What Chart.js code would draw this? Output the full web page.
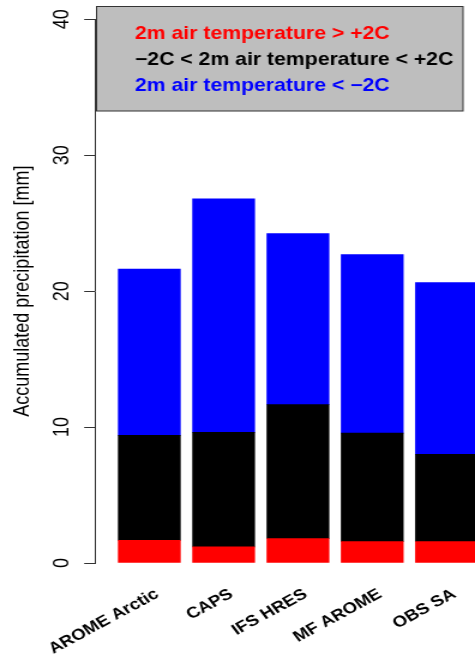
<!DOCTYPE html>
<html>
<head>
<meta charset="utf-8">
<script src="https://cdn.jsdelivr.net/npm/chart.js@4/dist/chart.umd.min.js"></script>
<style>
  html, body { margin: 0; padding: 0; background: #ffffff; overflow: hidden; width: 475px; height: 659px; }
  #wrap { width: 396px; height: 659px; transform: scaleX(1.19949); transform-origin: 0 0; }
  canvas { display: block; }
</style>
</head>
<body>
<div id="wrap"><canvas id="c" width="396" height="659"></canvas></div>
<script>
// ---- data ----
const categories = ["AROME Arctic", "CAPS", "IFS HRES", "MF AROME", "OBS SA"];
const seriesLabels = [
  "2m air temperature > +2C",
  "\u22122C < 2m air temperature < +2C",
  "2m air temperature < \u22122C"
];
const warmValues = [1.67, 1.19, 1.79, 1.57, 1.57];     // > +2C (red)
const mixedValues = [7.72, 8.42, 9.86, 7.99, 6.42];    // -2C..+2C (black)
const coldValues = [12.23, 17.19, 12.59, 13.13, 12.64]; // < -2C (blue)
const yTicks = [0, 10, 20, 30, 40];
const yTitle = "Accumulated precipitation [mm]";

const colors = ["#ff0000", "#000000", "#0000ff"];
const toPoints = arr => arr.map((v, i) => ({ x: i, y: v }));

const legendBox = {
  id: 'legendBox',
  afterDraw(chart) {
    const ctx = chart.ctx;
    ctx.save();
    ctx.fillStyle = '#bebebe';
    ctx.fillRect(80, 6, 306, 105);
    ctx.strokeStyle = '#333333';
    ctx.lineWidth = 1;
    ctx.strokeRect(80.5, 6.5, 305.5, 104.5);
    ctx.font = 'bold 17.7px "Liberation Sans", Arial, sans-serif';
    ctx.textBaseline = 'middle';
    ctx.textAlign = 'left';
    const ys = [34, 60.5, 86.5];
    chart.data.datasets.forEach((ds, i) => {
      ctx.fillStyle = ds.backgroundColor;
      ctx.fillText(ds.label, 112.5, ys[i]);
    });
    ctx.restore();
  }
};

new Chart(document.getElementById('c'), {
  type: 'bar',
  data: {
    datasets: [
      { label: seriesLabels[0], data: toPoints(warmValues), backgroundColor: colors[0] },
      { label: seriesLabels[1], data: toPoints(mixedValues), backgroundColor: colors[1] },
      { label: seriesLabels[2], data: toPoints(coldValues), backgroundColor: colors[2] }
    ]
  },
  options: {
    responsive: false,
    animation: false,
    devicePixelRatio: 1,
    layout: { padding: { left: 0, right: 0, top: 13, bottom: 0 } },
    datasets: { bar: { barThickness: 51.7, borderWidth: 0 } },
    plugins: { legend: { display: false }, tooltip: { enabled: false } },
    scales: {
      x: {
        type: 'linear',
        stacked: true,
        offset: false,
        min: -0.731,
        max: 4.383,
        grid: { display: false, drawTicks: false },
        border: { display: false },
        afterBuildTicks: s => { s.ticks = categories.map((_, i) => ({ value: i })); },
        afterFit: s => { s.height = 96; s.paddingLeft = 0; s.paddingRight = 0; },
        ticks: {
          autoSkip: false,
          minRotation: 33,
          maxRotation: 33,
          padding: 22,
          labelOffset: 6.5,
          color: '#000000',
          font: { family: '"Liberation Sans", Arial, sans-serif', size: 15.5, weight: 'bold' },
          callback: v => categories[v] !== undefined ? categories[v] : ''
        }
      },
      y: {
        stacked: true,
        min: 0,
        max: 40,
        afterBuildTicks: s => { s.ticks = yTicks.map(v => ({ value: v })); },
        afterFit: s => { s.width = 79.2; },
        grid: { drawOnChartArea: false, drawTicks: true, tickLength: 9, color: '#333333' },
        border: { display: true, color: '#333333', width: 1 },
        ticks: {
          minRotation: 90,
          maxRotation: 90,
          crossAlign: 'center',
          padding: 8.5,
          color: '#000000',
          font: { family: '"Liberation Sans", Arial, sans-serif', size: 18 }
        },
        title: {
          display: true,
          text: yTitle,
          color: '#000000',
          padding: { top: 8.4, bottom: 0 },
          font: { family: '"Liberation Sans", Arial, sans-serif', size: 18 }
        }
      }
    }
  },
  plugins: [legendBox]
});
</script>
</body>
</html>
